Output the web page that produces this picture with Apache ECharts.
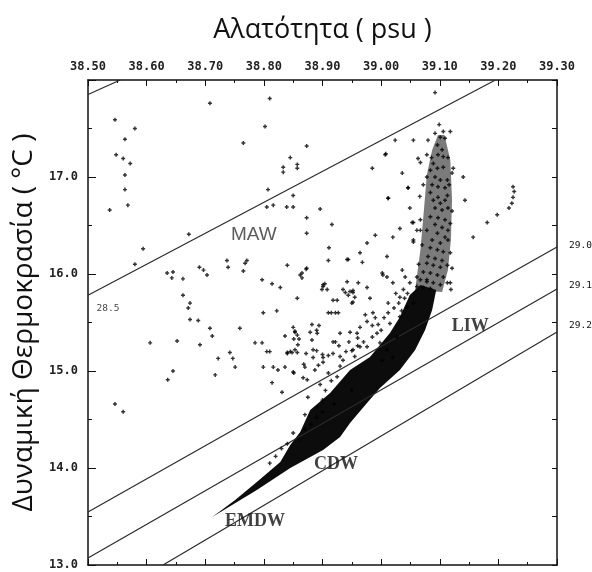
<!DOCTYPE html>
<html><head><meta charset="utf-8">
<script src="https://cdn.jsdelivr.net/npm/echarts@6/dist/echarts.min.js"></script>
<style>html,body{margin:0;padding:0;background:#fff}#c{width:592px;height:572px}</style>
</head><body><div id="c"></div>
<script>
// Axis ranges
const salinityRange = [38.5, 39.3];
const temperatureRange = [13.0, 18.0];

// Isopycnal (sigma-theta) lines: [S, T] end points
const isoNames = ['28.4', '28.5', '29.0', '29.1', '29.2'];
const iso284 = [[38.50, 17.85], [38.555, 18.0]];
const iso285 = [[38.50, 15.78], [39.195, 18.0]];
const iso290 = [[38.50, 13.546], [39.30, 16.278]];
const iso291 = [[38.50, 13.072], [39.30, 15.845]];
const iso292 = [[38.628, 13.0], [39.30, 15.402]];

// Water mass labels [S, T, text]
const waterMasses = [[38.783, 16.40, 'MAW'], [39.152, 15.46, 'LIW'], [38.923, 14.04, 'CDW'], [38.785, 13.45, 'EMDW']];
const sigmaLabel285 = [38.534, 15.64, '28.5'];

// Dense core of observations (outline of solid black band)
const coreOutline = [
 [38.712,13.495],[38.788,13.773],[38.845,14.0],[38.901,14.186],[38.930,14.32],[38.947,14.464],
 [38.973,14.65],[38.998,14.825],[39.032,15.01],[39.058,15.216],[39.075,15.423],[39.087,15.629],
 [39.094,15.835],[39.067,15.887],[39.049,15.784],[39.032,15.557],[39.015,15.392],[38.981,15.144],
 [38.947,15.010],[38.913,14.773],[38.879,14.598],[38.862,14.371],[38.845,14.237],[38.828,14.062],
 [38.788,13.856],[38.751,13.67]
];
// Dense column of observations (outline of the dotted upper column)
const columnOutline = [
 [39.058,15.835],[39.067,16.247],[39.073,16.66],[39.078,17.02],[39.087,17.278],[39.097,17.433],
 [39.108,17.433],[39.118,17.175],[39.121,16.763],[39.119,16.35],[39.114,16.04],[39.104,15.814]
];

// Individual observations in the column
const columnPoints = [
 [39.101,17.41],[39.109,17.40],[39.096,17.33],[39.104,17.28],[39.097,17.23],[39.106,17.21],[39.089,17.14],
 [39.114,17.20],[39.084,17.07],[39.096,17.09],[39.106,17.10],[39.121,17.04],[39.078,17.00],[39.092,17.00],
 [39.101,16.97],[39.113,16.97],[39.072,16.92],[39.087,16.92],[39.097,16.90],[39.109,16.89],[39.084,16.84],
 [39.097,16.79],[39.113,16.81],[39.089,16.76],[39.101,16.73],[39.109,16.76],[39.092,16.68],[39.104,16.66],
 [39.114,16.68],[39.084,16.59],[39.097,16.58],[39.109,16.56],[39.092,16.51],[39.104,16.48],[39.114,16.45],
 [39.078,16.45],[39.096,16.42],[39.109,16.38],[39.087,16.35],[39.101,16.32],[39.114,16.35],[39.084,16.27],
 [39.096,16.25],[39.106,16.23],[39.080,16.18],[39.092,16.16],[39.104,16.14],[39.078,16.11],[39.089,16.09],
 [39.101,16.07],[39.113,16.09],[39.072,16.02],[39.084,16.01],[39.096,15.99],[39.106,15.97],[39.067,15.94],
 [39.078,15.92],[39.089,15.91],[39.101,15.89],[39.113,15.91],[39.061,15.87],[39.072,15.86],[39.084,15.85],
 [39.055,16.53],[39.061,16.45],[39.032,16.47],[39.049,16.68],[39.046,16.89],[39.067,17.15],[39.078,17.23],
 [39.036,17.04],[39.007,17.23],[39.012,16.78],[39.036,16.04],[39.041,15.97],[39.020,16.38],[39.055,16.35],
 [39.010,15.97],[39.140,17.00],[39.121,16.65],[39.118,16.22],[39.121,16.06],
 [39.066,16.80],[39.070,16.30],[39.064,16.10],[39.118,16.52],[39.116,16.92],[39.092,17.45],[39.086,17.20]
];

// Observations around the dense band
const bandFringePoints = [
 [38.901,15.89],[38.918,15.73],[38.935,15.84],[38.944,15.78],[38.952,15.81],[38.961,15.91],[38.976,15.86],
 [38.981,15.75],[38.952,15.71],[38.910,15.60],[38.922,15.60],[38.894,15.47],[38.882,15.32],[38.891,15.39],
 [38.918,15.30],[38.930,15.39],[38.947,15.40],[38.964,15.45],[38.976,15.51],[38.985,15.47],[38.986,15.60],
 [38.973,15.58],[39.003,15.99],[39.012,15.70],[39.020,15.91],[39.032,15.76],[39.015,15.49],[38.884,15.22],
 [38.901,15.14],[38.918,15.18],[38.935,15.11],[38.952,15.22],[38.964,15.25],[38.976,15.25],[38.870,15.04],
 [38.887,15.01],[38.910,14.98],[38.925,14.94],[38.874,14.91],[38.896,14.86],[38.875,14.73],[38.891,14.63],
 [38.985,15.35],[38.993,15.39],[38.998,15.29],[39.038,15.84],[39.049,15.91],[39.061,15.97],[39.044,15.66],
 [39.055,15.70],[39.032,15.56],[39.027,15.35],[39.010,15.22],[39.002,15.11],[39.020,15.14],
 [38.85,14.36],[38.86,14.30],[38.87,14.40],[38.88,14.45],[38.89,14.52],[38.84,14.25],[38.83,14.20],
 [38.90,14.58],[38.92,14.66],[38.87,14.55],[38.95,14.80],[38.82,14.12],[38.81,14.05],
 [39.005,15.55],[39.012,15.60],[39.022,15.65],[39.030,15.70],[39.040,15.75],[38.995,15.48],[39.000,15.42],
 [39.035,15.62],[39.045,15.80],[39.025,15.80],[38.990,15.55],[38.960,15.34],[38.970,15.30],[38.940,15.20],
 [38.955,15.15],[38.930,15.05],[38.915,14.90],[38.905,14.80],[38.900,14.70]
];

// Scattered observations (surface / mixed waters)
const sparsePoints = [
 [38.546,17.59],[38.58,17.5],[38.563,17.39],[38.548,17.23],[38.56,17.19],[38.572,17.14],[38.563,17.02],
 [38.563,16.87],[38.568,16.71],[38.537,16.66],[38.708,17.76],[38.81,17.81],[38.802,17.52],[38.765,17.35],
 [38.845,17.20],[38.833,17.10],[38.833,17.05],[38.857,17.09],[38.807,16.87],[38.805,16.69],[38.816,16.71],
 [38.839,16.69],[38.85,16.81],[38.672,16.41],[38.594,16.26],[38.58,16.10],[38.635,16.01],[38.645,16.02],
 [38.643,15.96],[38.662,15.95],[38.69,16.07],[38.697,16.04],[38.703,15.99],[38.737,16.14],[38.739,16.07],
 [38.771,16.14],[38.768,16.11],[38.765,16.03],[38.797,15.94],[38.814,15.90],[38.828,15.86],[38.84,16.09],
 [38.857,15.75],[38.662,15.78],[38.674,15.70],[38.671,15.65],[38.799,15.60],[38.822,15.62],
 [38.674,15.53],[38.688,15.52],[38.708,15.44],[38.712,15.36],[38.759,15.44],[38.606,15.29],[38.652,15.31],
 [38.691,15.27],[38.722,15.13],[38.742,15.19],[38.747,15.13],[38.751,15.04],[38.785,15.29],[38.797,15.29],
 [38.805,15.20],[38.81,15.20],[38.799,15.04],[38.816,15.04],[38.824,15.01],[38.836,15.04],[38.814,14.88],
 [38.831,14.78],[38.84,15.19],[38.845,15.20],[38.853,15.22],[38.85,14.99],[38.645,15.00],[38.636,14.91],
 [38.546,14.66],[38.56,14.58],[38.853,15.40],[38.717,14.96],
 [38.872,16.05],[38.862,15.99],[38.865,15.96],
 [38.85,15.45],[38.853,15.41],[38.857,15.37],[38.86,15.33],[38.882,15.48],[38.879,15.40],[38.836,15.36],
 [38.851,15.33],[38.858,15.27],[38.848,15.19],[38.857,15.19],[38.84,15.18],[38.872,15.18],[38.868,15.07],
 [38.851,14.98],[38.867,14.93],[38.89,15.42],[38.89,15.21],
 [38.901,15.87],[38.904,15.90],[38.899,15.84],[38.942,15.92],[38.939,15.81],[38.947,15.82],[38.952,15.83],
 [38.955,15.76],[38.95,15.70],[38.925,15.73],[38.915,15.60],[38.927,15.60],[38.942,16.15],
 [38.922,15.30],[38.928,15.26],[38.945,15.30],[38.959,15.39],[38.96,15.26],[38.95,15.21],[38.90,15.17],
 [38.91,15.16],[38.93,15.15],[38.884,15.14],[38.901,15.09],[38.893,15.06],
 [38.873,17.32],[38.857,17.13],[38.985,17.09],[39.024,17.38],[39.008,17.24],[39.055,17.38],[39.08,17.38],
 [39.099,17.54],[39.092,17.87],[39.106,17.47],[39.118,17.47],[39.063,17.19],[39.123,17.09],[39.012,16.78],
 [39.046,16.89],[38.873,16.58],[38.896,16.67],[38.916,16.51],[38.85,16.69],[38.99,16.40],[38.911,16.27],
 [38.976,16.32],[38.964,16.22],[38.944,16.15],[38.968,16.12],[38.873,16.06],[38.865,16.01],[38.908,15.84],
 [39.002,16.01],[39.055,16.33],[39.067,16.56],[39.053,16.53],[39.067,16.45],[39.010,16.18],[39.078,15.94],
 [39.118,15.91],[39.119,15.84],[38.91,16.14],[38.873,16.42],
 [39.143,16.76],[39.157,16.38],[39.181,16.53],[39.198,16.61],[39.218,16.68],[39.223,16.73],[39.225,16.79],
 [39.227,16.85],[39.225,16.90]
];

const ink = '#111111';
const tickFont = "'DejaVu Sans Mono', monospace";
const titleFont = "'Open Sans', 'Noto Sans', sans-serif";
const plus = 'path://M1.6,0H3.4V1.6H5V3.4H3.4V5H1.6V3.4H0V1.6H1.6Z';

const chart = echarts.init(document.getElementById('c'), null, {renderer: 'canvas'});

function polygonSeries(outline, fill, z) {
  return {
    type: 'custom', xAxisIndex: 0, yAxisIndex: 0, z: z, silent: true, animation: false,
    data: [[outline[0][0], outline[0][1]]],
    renderItem: function (params, api) {
      return {type: 'polygon', shape: {points: outline.map(p => api.coord(p))}, style: {fill: fill}};
    }
  };
}

function isoSeries(name, pts, showEnd, offY) {
  return {
    type: 'line', name: name, xAxisIndex: 0, yAxisIndex: 0, data: pts, symbol: 'none', z: 3, silent: true,
    lineStyle: {color: '#2a2a2a', width: 1.2},
    endLabel: showEnd ? {show: true, formatter: name, distance: 12, offset: [0, offY], fontFamily: tickFont,
      fontSize: 9.5, color: ink} : {show: false}
  };
}

const pointStyle = {type: 'scatter', xAxisIndex: 0, yAxisIndex: 0, symbol: plus, symbolSize: 4, z: 4,
  itemStyle: {color: '#000'}, silent: true};

const option = {
  animation: false,
  backgroundColor: '#ffffff',
  grid: {left: 88, right: 35, top: 80, bottom: 7, containLabel: false, outerBoundsMode: 'none'},
  xAxis: [
    {type: 'value', position: 'top', min: salinityRange[0], max: salinityRange[1], interval: 0.1,
      axisLine: {lineStyle: {color: ink, width: 1.5}},
      axisTick: {inside: true, length: 6, lineStyle: {color: ink, width: 1}},
      minorTick: {show: true, splitNumber: 2, length: 3, lineStyle: {color: ink}},
      splitLine: {show: false},
      axisLabel: {formatter: v => v.toFixed(2), margin: 7, fontFamily: tickFont, fontSize: 12, fontWeight: 'bold', color: '#222'},
      name: 'Αλατότητα ( psu )', nameLocation: 'middle', nameGap: 36,
      nameTextStyle: {fontFamily: titleFont, fontSize: 27, color: ink}},
    {type: 'value', position: 'bottom', min: salinityRange[0], max: salinityRange[1], interval: 0.1,
      axisLine: {lineStyle: {color: ink, width: 1.5}},
      axisTick: {inside: true, length: 6, lineStyle: {color: ink}},
      minorTick: {show: true, splitNumber: 2, length: 3, lineStyle: {color: ink}},
      splitLine: {show: false}, axisLabel: {show: false}}
  ],
  yAxis: [
    {type: 'value', position: 'left', min: temperatureRange[0], max: temperatureRange[1], interval: 1,
      axisLine: {show: true, lineStyle: {color: ink, width: 1.5}},
      axisTick: {show: true, inside: true, length: 8, lineStyle: {color: ink}},
      minorTick: {show: true, splitNumber: 2, length: 4, lineStyle: {color: ink}},
      splitLine: {show: false},
      axisLabel: {formatter: v => v.toFixed(1), showMaxLabel: false, margin: 10, fontFamily: tickFont,
        fontSize: 12, fontWeight: 'bold', color: '#222'},
      name: 'Δυναμική Θερμοκρασία ( °C )', nameLocation: 'middle', nameGap: 42,
      nameTextStyle: {fontFamily: titleFont, fontSize: 28, color: ink}},
    {type: 'value', position: 'right', min: temperatureRange[0], max: temperatureRange[1], interval: 0.5,
      axisLine: {show: true, lineStyle: {color: ink, width: 1.5}},
      axisTick: {show: true, inside: true, length: 5, lineStyle: {color: ink}},
      splitLine: {show: false}, axisLabel: {show: false}}
  ],
  series: [
    polygonSeries(columnOutline, 'rgba(15,15,15,0.55)', 1),
    polygonSeries(coreOutline, '#0c0c0c', 2),
    isoSeries(isoNames[0], iso284, false, 0),
    isoSeries(isoNames[1], iso285, false, 0),
    isoSeries(isoNames[2], iso290, true, -2),
    isoSeries(isoNames[3], iso291, true, -4),
    isoSeries(isoNames[4], iso292, true, -6),
    Object.assign({}, pointStyle, {data: sparsePoints}),
    Object.assign({}, pointStyle, {data: columnPoints}),
    Object.assign({}, pointStyle, {data: bandFringePoints}),
    {type: 'scatter', xAxisIndex: 0, yAxisIndex: 0, symbolSize: 0, z: 6, silent: true,
      data: waterMasses.map(w => ({value: [w[0], w[1]], name: w[2]})),
      label: {show: true, position: 'inside', formatter: p => p.name, color: ink,
        fontFamily: "'Liberation Serif', 'Times New Roman', serif", fontWeight: 'bold', fontSize: 18}},
    {type: 'scatter', xAxisIndex: 0, yAxisIndex: 0, symbolSize: 0, z: 6, silent: true,
      data: [{value: [sigmaLabel285[0], sigmaLabel285[1]], name: sigmaLabel285[2]}],
      label: {show: true, position: 'inside', formatter: p => p.name, color: ink, fontFamily: tickFont, fontSize: 9.5}}
  ]
};
// MAW is printed in a sans-serif face in the original
option.series[10].data[0].label = {fontFamily: "'Liberation Sans', Arial, sans-serif", fontWeight: 'normal', fontSize: 19, color: '#333'};
chart.setOption(option);
</script></body></html>
